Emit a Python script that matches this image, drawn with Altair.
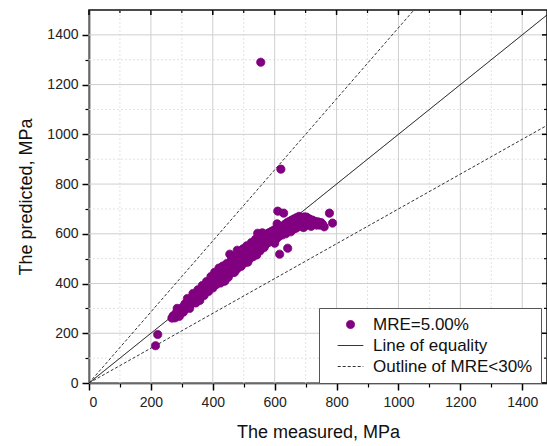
import altair as alt
import pandas as pd

# ---- data (measured, predicted) ----
measured = [215, 222,
            268, 272, 278, 282, 286, 290, 294, 298, 300,
            303, 306, 310, 313, 316, 320, 322, 326, 328, 332, 335, 338, 341, 344, 347, 350,
            353, 355, 358, 360, 363, 366, 368, 371, 374, 376, 379, 382, 384, 387, 390, 392, 395, 398, 400,
            402, 405, 408, 410, 412, 415, 418, 420, 423, 426, 428, 431, 434, 437, 439, 440, 443, 446, 448, 450,
            452, 455, 456, 459, 462, 465, 468, 470, 473, 476, 479, 480, 483, 486, 489, 491, 494, 497, 500,
            502, 505, 508, 511, 513, 515, 518, 521, 524, 527, 529, 532, 535, 538, 541, 543, 545, 547, 550,
            552, 555, 557, 560, 562, 565, 567, 570, 572, 575, 578, 580, 583, 585, 588, 590, 593, 595, 598, 600,
            602, 604, 606, 608, 610, 612, 614, 616, 618, 620, 621, 624, 626, 629, 630, 633, 636, 638, 640, 642,
            645, 648, 650,
            652, 655, 658, 660, 663, 666, 668, 671, 674, 676, 679, 682, 684, 687, 690, 693, 696, 699, 700,
            703, 706, 709, 712, 715, 718, 722, 726, 730, 735, 740, 745, 750, 755, 760,
            777, 787, 555,
            285, 292, 305, 318, 325, 336, 345, 352, 358, 366, 372, 380, 386, 394, 400, 406, 412, 420, 425, 432,
            438, 445, 452, 460, 466, 472, 478, 485, 492, 498, 505, 510, 518, 525, 530, 538, 542, 548, 553, 560,
            566]
predicted = [150, 195,
             261, 270, 262, 282, 275, 292, 280, 296, 285,
             305, 292, 318, 300, 312, 325, 305, 330, 315, 340, 322, 332, 345, 328, 352, 338,
             360, 345, 340, 368, 352, 375, 358, 380, 362, 390, 372, 395, 378, 402, 385, 410, 392, 415, 398,
             422, 405, 430, 395, 415, 440, 420, 405, 445, 428, 412, 455, 436, 410, 410, 450, 432, 462, 440, 425,
             470, 518, 450, 476, 455, 485, 462, 445, 490, 470, 534, 500, 478, 505, 485, 470, 512, 492, 520,
             500, 525, 508, 490, 486, 532, 515, 540, 520, 548, 530, 512, 555, 538, 520, 562, 602, 545, 570,
             550, 580, 560, 590, 568, 548, 595, 575, 558, 600, 582, 565, 605, 588, 570, 610, 592, 575, 615, 562,
             598, 620, 580, 640, 691, 605, 590, 518, 625, 860, 610, 595, 630, 683, 612, 638, 600, 625, 645, 542,
             615, 650, 630,
             608, 655, 635, 618, 660, 640, 622, 665, 645, 628, 670, 650, 632, 662, 640, 625, 668, 648, 632,
             667, 652, 638, 660, 645, 630, 655, 640, 650, 635, 648, 635, 645, 638, 628,
             683, 643, 1290,
             300, 268, 285, 340, 300, 360, 322, 375, 332, 392, 352, 408, 368, 428, 382, 445, 398, 462, 402, 470,
             420, 480, 435, 496, 445, 510, 458, 522, 470, 540, 485, 552, 498, 565, 508, 578, 515, 590, 532, 604,
             545]

series_names = ["MRE=5.00%", "Line of equality", "Outline of MRE<30%"]
line_key = ["equal", "equal", "lower", "lower", "upper", "upper"]
line_series = ["Line of equality", "Line of equality", "Outline of MRE<30%", "Outline of MRE<30%",
               "Outline of MRE<30%", "Outline of MRE<30%"]
line_x = [0, 1500, 0, 1500, 0, 1050]
line_y = [0, 1500, 0, 1050, 0, 1500]

x_major = [0, 200, 400, 600, 800, 1000, 1200, 1400]
x_minor = [100, 300, 500, 700, 900, 1100, 1300]
y_major = [0, 200, 400, 600, 800, 1000, 1200, 1400]
y_minor = [100, 300, 500, 700, 900, 1100, 1300]

X_DOMAIN = [0, 1480]
Y_DOMAIN = [0, 1500]
W, H = 458, 373

pts = pd.DataFrame({"x": measured, "y": predicted, "series": series_names[0]})
lines = pd.DataFrame({"x": line_x, "y": line_y, "key": line_key, "series": line_series})
xmaj = pd.DataFrame({"v": x_major})
xmin = pd.DataFrame({"v": x_minor})
ymaj = pd.DataFrame({"v": y_major})
ymin = pd.DataFrame({"v": y_minor})

xs = alt.Scale(domain=X_DOMAIN, nice=False, zero=False)
ys = alt.Scale(domain=Y_DOMAIN, nice=False, zero=False)

FONT = "Liberation Sans"

stroke_scale = alt.Scale(domain=series_names, range=["#800080", "#000000", "#333333"])
fill_scale = alt.Scale(domain=series_names, range=["#800080", "transparent", "transparent"])
shape_scale = alt.Scale(domain=series_names, range=["circle", "M-3.2,0H3.2", "M-3.2,0H3.2"])
dash_scale = alt.Scale(domain=series_names, range=[[1, 0], [1, 0], [3, 2]])

no_x = alt.X("x:Q", scale=xs, axis=None)
no_y = alt.Y("y:Q", scale=ys, axis=None)

minor_grid_x = alt.Chart(xmin).mark_rule(color="#e3e3e3", strokeDash=[2, 2], strokeWidth=1).encode(
    x=alt.X("v:Q", scale=xs, axis=alt.Axis(orient="bottom", values=x_minor, labels=False, tickSize=4,
                                           domain=False, grid=False, title=None, tickColor="#000", tickWidth=1.2))
)
minor_grid_y = alt.Chart(ymin).mark_rule(color="#e3e3e3", strokeDash=[2, 2], strokeWidth=1).encode(
    y=alt.Y("v:Q", scale=ys, axis=alt.Axis(orient="left", values=y_minor, labels=False, tickSize=4,
                                           domain=False, grid=False, title=None, tickColor="#000", tickWidth=1.2))
)
major_grid_x = alt.Chart(xmaj).mark_rule(color="#cfcfcf", strokeWidth=1).encode(
    x=alt.X("v:Q", scale=xs, title="The measured, MPa",
            axis=alt.Axis(orient="bottom", values=x_major, format="d", tickSize=7, grid=False,
                          domainColor="#000", domainWidth=1.5, tickColor="#000", tickWidth=1.5,
                          labelFont=FONT, labelFontSize=14, labelColor="#222", labelPadding=5,
                          titleFont=FONT, titleFontSize=18, titleFontWeight="normal", titleColor="#111",
                          titlePadding=14))
)
major_grid_y = alt.Chart(ymaj).mark_rule(color="#cfcfcf", strokeWidth=1).encode(
    y=alt.Y("v:Q", scale=ys, title="The predicted, MPa",
            axis=alt.Axis(orient="left", values=y_major, format="d", tickSize=7, grid=False,
                          domainColor="#000", domainWidth=1.5, tickColor="#000", tickWidth=1.5,
                          labelFont=FONT, labelFontSize=14, labelColor="#222", labelPadding=4,
                          titleFont=FONT, titleFontSize=18, titleFontWeight="normal", titleColor="#111",
                          titlePadding=11))
)

# inward ticks on top and right borders
top_major = alt.Chart(xmaj).mark_rule(color="#000", strokeWidth=1.5).encode(
    x=alt.X("v:Q", scale=xs, axis=None), y=alt.value(0), y2=alt.value(5))
top_minor = alt.Chart(xmin).mark_rule(color="#000", strokeWidth=1.2).encode(
    x=alt.X("v:Q", scale=xs, axis=None), y=alt.value(0), y2=alt.value(3))
right_major = alt.Chart(ymaj).mark_rule(color="#000", strokeWidth=1.5).encode(
    y=alt.Y("v:Q", scale=ys, axis=None), x=alt.value(W), x2=alt.value(W - 5))
right_minor = alt.Chart(ymin).mark_rule(color="#000", strokeWidth=1.2).encode(
    y=alt.Y("v:Q", scale=ys, axis=None), x=alt.value(W), x2=alt.value(W - 3))

ref_lines = alt.Chart(lines).mark_line(strokeWidth=1, clip=True).encode(
    x=no_x, y=no_y, detail="key:N",
    stroke=alt.Stroke("series:N", scale=stroke_scale, legend=alt.Legend(title=None)),
    strokeDash=alt.StrokeDash("series:N", scale=dash_scale, legend=alt.Legend(title=None)),
)

points = alt.Chart(pts).mark_point(size=66, opacity=1, strokeWidth=1, clip=True).encode(
    x=no_x, y=no_y,
    fill=alt.Fill("series:N", scale=fill_scale, legend=alt.Legend(title=None)),
    stroke=alt.Stroke("series:N", scale=stroke_scale, legend=alt.Legend(title=None)),
    shape=alt.Shape("series:N", scale=shape_scale, legend=alt.Legend(title=None)),
    strokeDash=alt.StrokeDash("series:N", scale=dash_scale, legend=alt.Legend(title=None)),
)

chart = alt.layer(
    minor_grid_x, minor_grid_y, major_grid_x, major_grid_y,
    top_major, top_minor, right_major, right_minor,
    ref_lines, points,
).resolve_axis(x="independent", y="independent").properties(
    width=W, height=H,
    autosize=alt.AutoSizeParams(type="none"),
    padding={"left": 89, "top": 10, "right": 0, "bottom": 63},
    background="white",
).configure_view(
    stroke="#111", strokeWidth=1.5
).configure_legend(
    orient="none", legendX=230, legendY=298,
    strokeColor="#555", fillColor="white", padding=8,
    labelFont=FONT, labelFontSize=17, labelColor="#111", labelOffset=14,
    symbolSize=64, symbolStrokeWidth=1, rowPadding=3, symbolOffset=15,
)

chart.save("out.html", embed_options={"renderer": "svg", "actions": False})
